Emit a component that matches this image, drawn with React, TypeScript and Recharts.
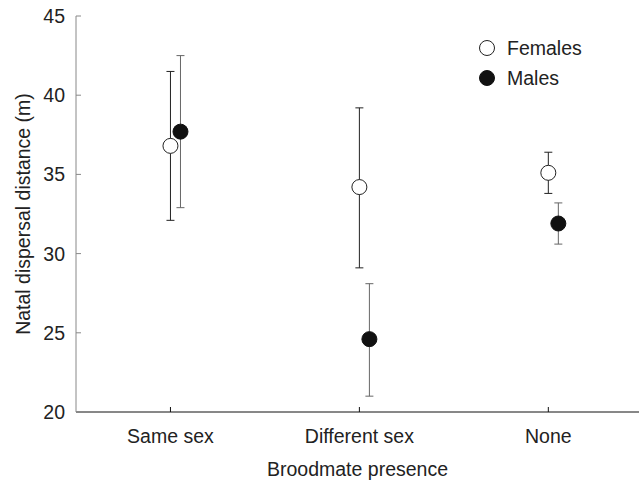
import {
  ScatterChart,
  Scatter,
  XAxis,
  YAxis,
  ErrorBar,
} from "recharts";

// Broodmate presence categories
const categories = ["Same sex", "Different sex", "None"];

// Means and error bar ends
const femaleMeans = [36.8, 34.2, 35.1];
const femaleLow = [32.1, 29.1, 33.8];
const femaleHigh = [41.5, 39.2, 36.4];

const maleMeans = [37.7, 24.6, 31.9];
const maleLow = [32.9, 21.0, 30.6];
const maleHigh = [42.5, 28.1, 33.2];

const yTicks = [20, 25, 30, 35, 40, 45];

const DODGE = 0.053;
const FONT = "'Liberation Sans', Arial, sans-serif";
const FS = 19.5;

const buildSeries = (means: number[], low: number[], high: number[], shift: number) =>
  means.map((m, i) => ({
    x: i + 1 + shift,
    y: m,
    err: [m - low[i], high[i] - m],
  }));

const femaleData = buildSeries(femaleMeans, femaleLow, femaleHigh, 0);
const maleData = buildSeries(maleMeans, maleLow, maleHigh, DODGE);

const OpenDot = (props: any) => (
  <circle cx={props.cx} cy={props.cy} r={7.5} fill="#fff" stroke="#222" strokeWidth={1} />
);
const FilledDot = (props: any) => (
  <circle cx={props.cx} cy={props.cy} r={7.5} fill="#111" stroke="#111" strokeWidth={1} />
);

const LegendBox = () => (
  <div
    style={{
      position: "absolute",
      left: 477,
      top: 33,
      fontFamily: FONT,
      fontSize: FS,
      color: "#222",
      lineHeight: "30px",
    }}
  >
    <div style={{ display: "flex", alignItems: "center", height: 30 }}>
      <svg width={20} height={20}>
        <circle cx={10} cy={10} r={7.5} fill="#fff" stroke="#222" />
      </svg>
      <span style={{ marginLeft: 10 }}>Females</span>
    </div>
    <div style={{ display: "flex", alignItems: "center", height: 30 }}>
      <svg width={20} height={20}>
        <circle cx={10} cy={10} r={7.5} fill="#111" stroke="#111" />
      </svg>
      <span style={{ marginLeft: 10 }}>Males</span>
    </div>
  </div>
);

const App = () => {
  return (
    <div style={{ position: "absolute", left: 0, top: 0, background: "#fff" }}>
      <ScatterChart
        width={639}
        height={482}
        margin={{ top: 16, right: 0, left: 0, bottom: 0 }}
      >
        <XAxis
          type="number"
          dataKey="x"
          domain={[0.5, 3.48]}
          ticks={[1, 2, 3]}
          tickFormatter={(v) => categories[Math.round(v) - 1]}
          allowDataOverflow
          height={70}
          stroke="#111"
          tickSize={-5}
          tickMargin={22}
          tick={{ fill: "#222", fontSize: FS, fontFamily: FONT }}
          label={{
            value: "Broodmate presence",
            position: "insideBottom",
            offset: 6,
            fill: "#222",
            fontSize: FS,
            fontFamily: FONT,
          }}
        />
        <YAxis
          type="number"
          dataKey="y"
          domain={[20, 45]}
          ticks={yTicks}
          width={76}
          stroke="#888"
          tickSize={-5}
          tickMargin={16}
          tick={{ fill: "#222", fontSize: FS, fontFamily: FONT }}
          label={{
            value: "Natal dispersal distance (m)",
            angle: -90,
            position: "center",
            dx: -15,
            fill: "#222",
            fontSize: FS,
            fontFamily: FONT,
          }}
        />
        <Scatter
          name="Females"
          data={femaleData}
          shape={<OpenDot />}
          isAnimationActive={false}
        >
          <ErrorBar dataKey="err" direction="y" width={4} stroke="#222" strokeWidth={1} />
        </Scatter>
        <Scatter
          name="Males"
          data={maleData}
          shape={<FilledDot />}
          isAnimationActive={false}
        >
          <ErrorBar dataKey="err" direction="y" width={4} stroke="#666" strokeWidth={1} />
        </Scatter>
      </ScatterChart>
      <LegendBox />
    </div>
  );
};

export default App;
